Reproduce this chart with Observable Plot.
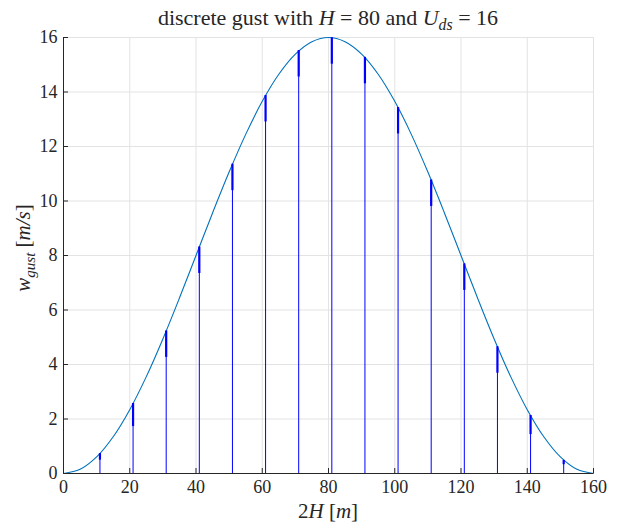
<!DOCTYPE html>
<html>
<head>
<meta charset="utf-8">
<script src="https://cdn.jsdelivr.net/npm/d3@7"></script>
<script src="https://cdn.jsdelivr.net/npm/@observablehq/plot@0.6"></script>
<style>
  html, body { margin: 0; padding: 0; background: #fff; }
  #chart svg { display: block; }
</style>
</head>
<body>
<div id="chart"></div>
<script>
// Gust profile (s in m, w in m/s)
const sPos = [0,5,10,15,20,25,30,35,40,45,50,55,60,65,70,75,80,85,90,95,100,105,110,115,120,125,130,135,140,145,150,155,160];
const wCurve = [0,0.154,0.609,1.348,2.343,3.555,4.939,6.439,8.000,9.561,11.061,12.445,13.657,14.652,15.391,15.846,16.000,15.846,15.391,14.652,13.657,12.445,11.061,9.561,8.000,6.439,4.939,3.555,2.343,1.348,0.609,0.154,0];

// Discrete arrows (quiver)
const arrowX = [11,21,31,41,51,61,71,81,91,101,111,121,131,141,151];
const arrowW = [0.73,2.57,5.23,8.31,11.35,13.87,15.52,15.99,15.27,13.43,10.77,7.69,4.65,2.13,0.48];

// Tick labels
const xTicks = [0,20,40,60,80,100,120,140,160];
const yTicks = [0,2,4,6,8,10,12,14,16];

const curve = sPos.map((s, i) => ({s, w: wCurve[i]}));
const arrows = arrowX.map((x, i) => ({x, w: arrowW[i]}));

const serif = "'Liberation Serif', 'Times New Roman', serif";
const axisColor = "#262626";
const gridColor = "#e3e3e3";

const plot = Plot.plot({
  width: 619,
  height: 524,
  marginLeft: 63,
  marginRight: 26,
  marginTop: 37,
  marginBottom: 51,
  style: {fontFamily: serif, fontSize: "18px", color: axisColor, background: "#fff"},
  x: {domain: [0, 160]},
  y: {domain: [0, 16]},
  marks: [
    Plot.gridX(xTicks, {stroke: gridColor, strokeOpacity: 1}),
    Plot.gridY(yTicks, {stroke: gridColor, strokeOpacity: 1}),
    Plot.line(curve, {x: "s", y: "w", stroke: "#0072BD", strokeWidth: 1.1, curve: "catmull-rom"}),
    Plot.ruleX(arrows, {x: "x", y1: 0, y2: "w", stroke: "#0000ff", strokeWidth: 1}),
    Plot.ruleX(arrows, {x: "x", y1: d => d.w - Math.min(0.97, 0.33 * d.w), y2: "w", stroke: "#0000ff", strokeWidth: 2.2}),
    Plot.ruleY([0], {stroke: axisColor, strokeWidth: 1}),
    Plot.ruleX([0], {stroke: axisColor, strokeWidth: 1}),
    Plot.axisX(xTicks, {tickSize: -5, tickPadding: 12, stroke: axisColor, fill: axisColor, fontSize: 18, fontFamily: serif, label: null}),
    Plot.axisY(yTicks, {tickSize: -5, tickPadding: 11, stroke: axisColor, fill: axisColor, fontSize: 18, fontFamily: serif, label: null})
  ]
});

document.getElementById("chart").appendChild(plot);
d3.select(plot).selectAll("text").attr("font-family", serif);

// Title and axis labels with math-style tspans
const svg = d3.select(plot);

function addText(x, y, parts, opts = {}) {
  const t = svg.append("text")
    .attr("x", x).attr("y", y)
    .attr("text-anchor", "middle")
    .attr("fill", axisColor)
    .attr("font-family", serif)
    .attr("font-size", opts.size || 18);
  if (opts.rotate) t.attr("transform", `rotate(-90 ${x} ${y})`);
  parts.forEach(p => {
    const ts = t.append("tspan").text(p.t);
    if (p.i) ts.attr("font-style", "italic");
    if (p.sub) ts.attr("baseline-shift", "-30%").attr("font-size", "0.72em");
  });
  return t;
}

addText(328, 25, [
  {t: "discrete gust with "}, {t: "H", i: true}, {t: " = 80 and "},
  {t: "U", i: true}, {t: "ds", i: true, sub: true}, {t: " = 16"}
], {size: 22});

addText(328, 518, [
  {t: "2"}, {t: "H", i: true}, {t: " ["}, {t: "m", i: true}, {t: "]"}
], {size: 21});

addText(30, 248, [
  {t: "w", i: true}, {t: "gust", i: true, sub: true}, {t: " ["}, {t: "m/s", i: true}, {t: "]"}
], {size: 21, rotate: true});
</script>
</body>
</html>
